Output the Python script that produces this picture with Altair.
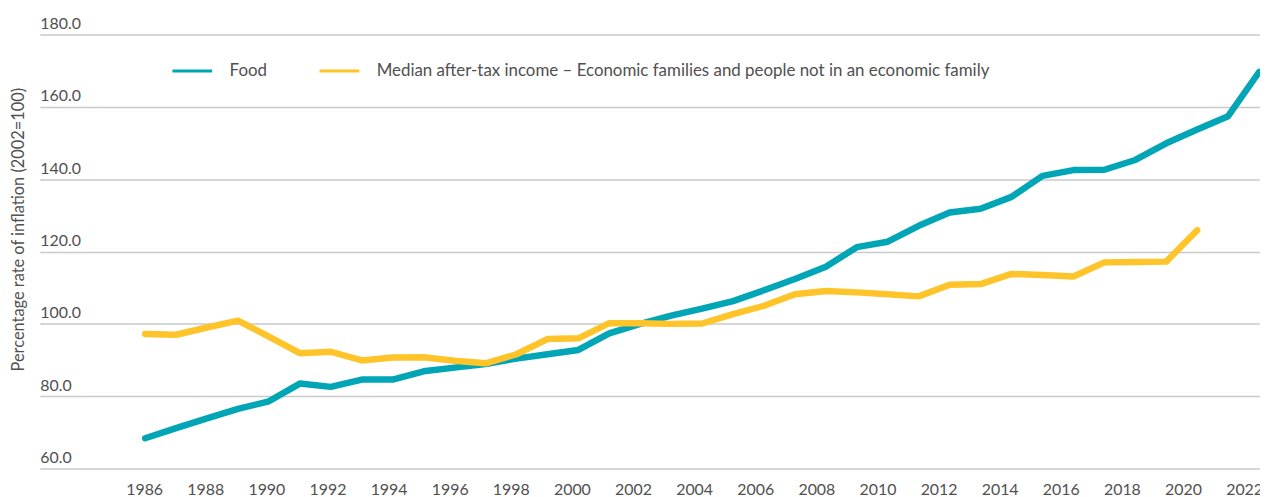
import altair as alt
import pandas as pd

# ---- data ----
food_years = list(range(1986, 2023))
food_values = [68.4, 71.2, 73.9, 76.5, 78.6, 83.5, 82.6, 84.6, 84.6, 86.9,
               87.9, 88.9, 90.4, 91.6, 92.8, 97.4, 100.0, 102.3, 104.2, 106.3,
               109.3, 112.4, 115.8, 121.2, 122.7, 127.1, 130.8, 131.8, 135.1, 140.9,
               142.5, 142.6, 145.3, 149.9, 153.7, 157.4, 169.6]

income_years = list(range(1986, 2021))
income_values = [97.2, 97.0, 99.0, 100.9, 96.5, 91.9, 92.3, 89.9, 90.7, 90.8,
                 89.8, 89.1, 91.6, 95.8, 96.0, 100.2, 100.2, 100.0, 100.1, 102.7,
                 105.0, 108.2, 109.1, 108.7, 108.2, 107.6, 110.8, 111.0, 113.8, 113.5,
                 113.1, 117.0, 117.1, 117.2, 125.9]

series_names = ["Food",
                "Median after-tax income \u2013 Economic families and people not in an economic family"]
series_colors = ["#00A6B6", "#FFC42A"]

x_tick_years = list(range(1986, 2023, 2))
y_ticks = [60, 80, 100, 120, 140, 160, 180]

FONT = "Lato"
TEXT = "#505050"

rows = [{"year": y, "value": v, "series": series_names[0]} for y, v in zip(food_years, food_values)]
rows += [{"year": y, "value": v, "series": series_names[1]} for y, v in zip(income_years, income_values)]
df = pd.DataFrame(rows)
ticks_df = pd.DataFrame({"year": x_tick_years})

lines = alt.Chart(df).mark_line(strokeWidth=6.5, strokeCap="round", strokeJoin="round").encode(
    x=alt.X("year:Q", scale=alt.Scale(domain=[1982.596, 2022.03], nice=False, zero=False), axis=None),
    y=alt.Y("value:Q",
            scale=alt.Scale(domain=[60, 180], nice=False, zero=False),
            axis=alt.Axis(values=y_ticks, format=".1f",
                          title="Percentage rate of inflation (2002=100)",
                          domain=False, ticks=False, tickSize=0, labelPadding=0,
                          labelAlign="left", labelBaseline="alphabetic", labelOffset=-6,
                          labelFlush=False, labelOverlap=False,
                          labelFont=FONT, labelFontSize=16, labelColor=TEXT,
                          grid=True, gridColor="#c9c9c9", gridWidth=1.5,
                          titleX=-21, titleY=196, titleAngle=270, titleAlign="center",
                          titleBaseline="middle", titleFont=FONT, titleFontSize=16.5,
                          titleFontWeight="normal", titleColor=TEXT)),
    color=alt.Color("series:N",
                    scale=alt.Scale(domain=series_names, range=series_colors),
                    legend=alt.Legend(title=None, orient="none", legendX=132, legendY=15,
                                      direction="horizontal", columns=2,
                                      symbolType="stroke", symbolSize=1600, symbolStrokeWidth=3,
                                      labelFont=FONT, labelFontSize=17, labelColor=TEXT,
                                      labelOffset=16, columnPadding=46, labelLimit=1000,
                                      padding=0, rowPadding=0)),
)

labels = alt.Chart(ticks_df).mark_point(opacity=0).encode(
    x=alt.X("year:Q",
            scale=alt.Scale(domain=[1982.585, 2022.52], nice=False, zero=False),
            axis=alt.Axis(orient="bottom", values=x_tick_years, format="d", title=None,
                          domain=False, ticks=False, tickSize=0, grid=False,
                          labelPadding=26, labelBaseline="alphabetic",
                          labelFlush=False, labelOverlap=False,
                          labelFont=FONT, labelFontSize=16, labelColor=TEXT)),
)

chart = alt.layer(lines, labels).resolve_scale(x="independent").properties(
    width=1228, height=437,
    autosize=alt.AutoSizeParams(type="none"),
    padding={"left": 32, "top": 25, "right": 0, "bottom": 27},
).configure_view(stroke=None)

chart.save("out.html", embed_options={"renderer": "svg", "actions": False})
